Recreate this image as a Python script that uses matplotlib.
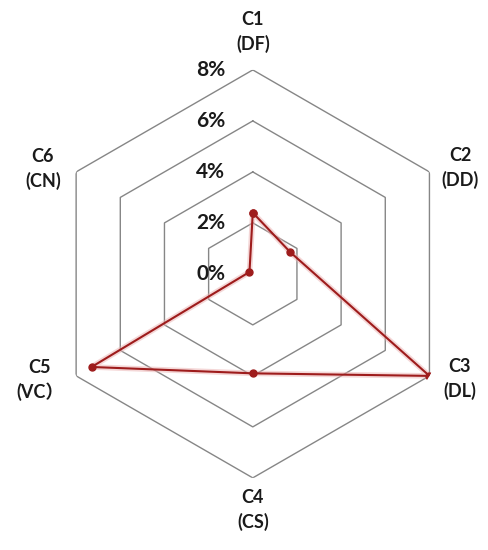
import numpy as np
import matplotlib.pyplot as plt

categories = ["C1\n(DF)", "C2\n(DD)", "C3\n(DL)", "C4\n(CS)", "C5\n(VC\uff09", "C6\n(CN)"]
values = [2.4, 1.7, 8.0, 3.9, 7.3, 0.15]
rings = [2, 4, 6, 8]
tick_labels = ["0%", "2%", "4%", "6%", "8%"]

plt.rcParams['font.family'] = ['Lato', 'Noto Sans CJK SC', 'DejaVu Sans']

fig = plt.figure(figsize=(4.88, 5.5), dpi=100)
ax = fig.add_axes([0.100, 0.131, 0.836, 0.742], projection='polar')
ax.set_theta_offset(np.pi / 2)
ax.set_theta_direction(-1)

n = len(categories)
angles = np.linspace(0, 2 * np.pi, n, endpoint=False)
closed = np.append(angles, angles[0])

# hexagon grid
for r in rings:
    ax.plot(closed, [r] * (n + 1), color="#868686", lw=1.0, zorder=1)

# data with a soft glow underneath
vals = np.append(values, values[0])
ax.plot(closed, vals, color="#eab0b0", lw=4, alpha=0.5, zorder=2, solid_joinstyle="round")
ax.plot(closed, vals, color="#9e1c1c", lw=1.5, marker="o", ms=5, zorder=3)

# tick labels along the top axis
for r, lab in zip([0] + rings, tick_labels):
    ax.annotate(lab, (0, r), xytext=(-20, 0), textcoords="offset points",
                ha="right", va="center", fontsize=15, fontweight="bold", color="#1a1a1a")

# category labels
label_angles = [0, 63, 117, 180, 243.5, 296.5]
label_r = [9.5, 9.12, 9.1, 9.25, 9.33, 9.2]
for a, r, lab in zip(label_angles, label_r, categories):
    ax.text(np.deg2rad(a), r, lab, ha="center", va="center", fontsize=13,
            fontweight="bold", color="#1a1a1a", linespacing=1.45)

ax.set_ylim(0, 8)
ax.grid(False)
ax.set_xticks([])
ax.set_yticks([])
ax.spines['polar'].set_visible(False)

fig.savefig("out.png", dpi=100)
